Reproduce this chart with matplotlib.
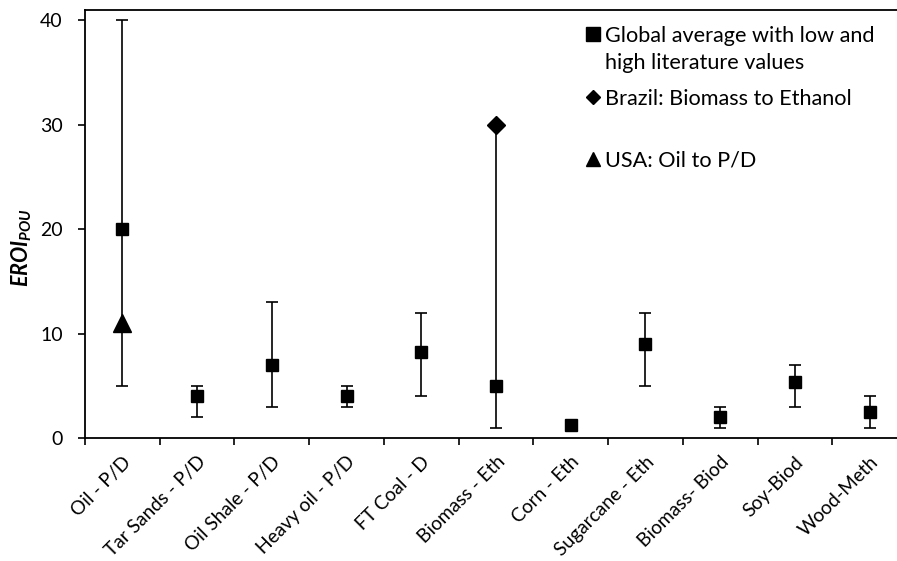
import numpy as np
import matplotlib
matplotlib.use("Agg")
import matplotlib.pyplot as plt
from matplotlib.lines import Line2D

plt.rcParams["font.family"] = ["Lato", "DejaVu Sans"]
plt.rcParams["mathtext.fontset"] = "custom"
plt.rcParams["mathtext.it"] = "Lato:italic:bold"
plt.rcParams["mathtext.rm"] = "Lato:bold"

# data
categories = ["Oil - P/D", "Tar Sands - P/D", "Oil Shale - P/D", "Heavy oil - P/D",
              "FT Coal - D", "Biomass - Eth", "Corn - Eth", "Sugarcane - Eth",
              "Biomass- Biod", "Soy-Biod", "Wood-Meth"]
global_avg = [20, 4, 7, 4, 8.2, 5, 1.2, 9, 2, 5.4, 2.5]
low_lit = [5, 2, 3, 3, 4, 1, np.nan, 5, 1, 3, 1]
high_lit = [40, 5, 13, 5, 12, 30, np.nan, 12, 3, 7, 4]
brazil_cat = ["Biomass - Eth"]
brazil_val = [30]
usa_cat = ["Oil - P/D"]
usa_val = [11]

W, H = 897, 561
fig = plt.figure(figsize=(W / 100, H / 100), dpi=100)
ax = fig.add_axes([85 / W, 123 / H, 822 / W, 428 / H])

x = np.arange(len(categories))
avg = np.array(global_avg, dtype=float)
lo = np.array(low_lit, dtype=float)
hi = np.array(high_lit, dtype=float)
has_err = ~np.isnan(lo)

ax.errorbar(x[has_err], avg[has_err],
            yerr=[avg[has_err] - lo[has_err], hi[has_err] - avg[has_err]],
            fmt="none", ecolor="black", elinewidth=1.2, capsize=4, capthick=1.2, zorder=2)
ax.plot(x, avg, ls="none", marker="s", ms=8.6, color="black", zorder=3)

bx = [categories.index(c) for c in brazil_cat]
ax.plot(bx, brazil_val, ls="none", marker="D", ms=9.2, color="black", zorder=4)
ux = [categories.index(c) for c in usa_cat]
ax.plot(ux, usa_val, ls="none", marker="^", ms=12.5, color="black", zorder=4)

ax.set_xlim(-0.5, len(categories) - 0.5)
ax.set_ylim(0, 41)
ax.set_yticks([0, 10, 20, 30, 40])

ax.set_xticks(np.arange(-0.5, len(categories), 1))
ax.set_xticklabels([])
ax.set_xticks(x, minor=True)
ax.set_xticklabels(categories, minor=True, rotation=45, ha="right",
                   rotation_mode="anchor", fontsize=13.8)
ax.tick_params(axis="x", which="minor", length=0, pad=11)
ax.tick_params(axis="x", which="major", direction="out", length=5, width=1.2)
ax.tick_params(axis="y", direction="out", length=5, width=1.2, labelsize=14, pad=11)

for side in ["left", "bottom", "top"]:
    ax.spines[side].set_linewidth(1.3)
ax.spines["right"].set_visible(False)

ax.set_ylabel(r"$\mathit{EROI}_{\mathit{POU}}$", fontsize=15.5)
ax.yaxis.label.set_rotation_mode("default")
ax.yaxis.label.set_va("center")
ax.yaxis.set_label_coords(-0.0766, 0.444)

# legend: marker sits on the first line of the two-line entry, so split it
h_sq = Line2D([], [], ls="none", marker="s", ms=9.5, color="black")
h_blank = Line2D([], [], ls="none")
h_di = Line2D([], [], ls="none", marker="D", ms=7.5, color="black")
h_tr = Line2D([], [], ls="none", marker="^", ms=10, color="black")
leg_kw = dict(loc="upper left", frameon=False, fontsize=15.6, borderpad=0,
              handlelength=0.8, handletextpad=0.15, borderaxespad=0)

leg1 = ax.legend([h_sq, h_blank],
                 ["Global average with low and", "high literature values"],
                 bbox_to_anchor=(0.608, 0.963), labelspacing=0.31, **leg_kw)
ax.add_artist(leg1)
ax.legend([h_di, h_tr], ["Brazil: Biomass to Ethanol", "USA: Oil to P/D"],
          bbox_to_anchor=(0.608, 0.816), labelspacing=1.92, **leg_kw)

fig.savefig("out.png", dpi=100)
